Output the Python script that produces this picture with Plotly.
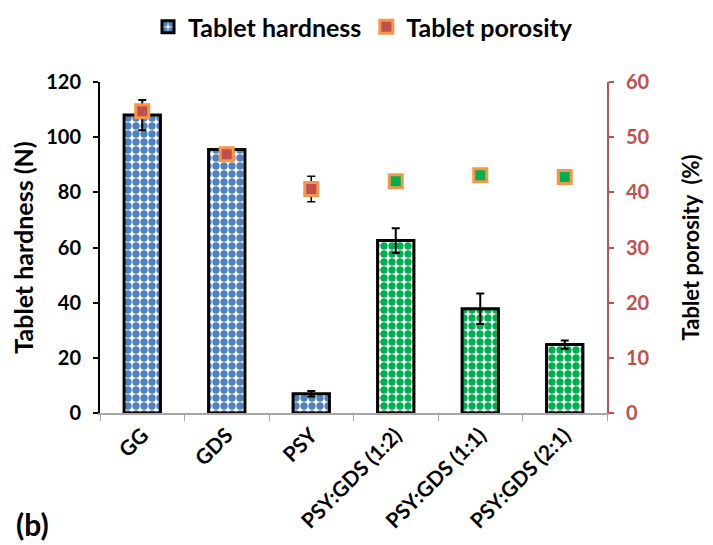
import plotly.graph_objects as go

categories = ["GG", "GDS", "PSY", "PSY:GDS (1:2)", "PSY:GDS (1:1)", "PSY:GDS (2:1)"]
hardness = [108.0, 95.5, 7.0, 62.5, 37.8, 24.8]
hardness_err = [5.5, 0.0, 1.0, 4.5, 5.5, 1.5]
porosity = [54.7, 46.9, 40.6, 42.0, 43.1, 42.8]
porosity_err = [0.0, 0.0, 2.3, 0.0, 0.0, 0.0]

blue = "#4F81BD"
green = "#00B050"
red = "#C0504D"
orange = "#F79646"
bar_colors = [blue, blue, blue, green, green, green]
marker_fill = [red, red, red, green, green, green]

FONT = "Lato"
W = "bold"

# plot area in figure pixels
L, R, T, B = 92, 114, 74, 140
PW, PH = 713 - L - R, 545 - T - B

fig = go.Figure()
fig.add_trace(go.Bar(
    x=categories, y=hardness, name="Tablet hardness",
    width=0.43,
    marker=dict(
        color="white",
        line=dict(color="black", width=3),
        pattern=dict(shape=".", fgcolor=bar_colors, bgcolor="white", fgopacity=1,
                     size=8, solidity=0.65),
    ),
    error_y=dict(type="data", array=hardness_err, color="black", thickness=2, width=4),
))
fig.add_trace(go.Scatter(
    x=categories, y=porosity, name="Tablet porosity", yaxis="y2", mode="markers",
    marker=dict(symbol="square", size=13, color=marker_fill, line=dict(color=orange, width=3)),
    error_y=dict(type="data", array=porosity_err, color="black", thickness=1.5, width=4),
))

fig.update_layout(
    width=713, height=545,
    margin=dict(l=L, r=R, t=T, b=B, autoexpand=False),
    paper_bgcolor="white", plot_bgcolor="white",
    font=dict(family=FONT, color="black"),
    showlegend=True,
    legend=dict(orientation="h", x=(355 - L) / PW, xanchor="center", y=1 + (T - 19) / PH, yanchor="middle",
                font=dict(size=25, family=FONT, weight=W), itemwidth=30,
                tracegroupgap=0),
    xaxis=dict(
        automargin=False,
        showline=True, linecolor="#A6A6A6", linewidth=1.5,
        ticks="outside", tickson="boundaries", ticklen=6, tickcolor="#A6A6A6",
        tickangle=-45, tickfont=dict(size=21, family=FONT, weight=W, color="black"),
        showgrid=False,
    ),
    yaxis=dict(
        automargin=False,
        range=[0, 120], dtick=20, showline=True, linecolor="black", linewidth=2,
        ticks="outside", ticklen=5, tickcolor="black", tickwidth=2, showgrid=False, zeroline=False,
        ticklabelstandoff=8,
        tickfont=dict(size=20, family=FONT, weight=W, color="black"),
        title=dict(text="Tablet hardness (N)", font=dict(size=25, family=FONT, weight=W), standoff=15),
    ),
    yaxis2=dict(
        automargin=False,
        range=[0, 60], dtick=10, overlaying="y", side="right",
        showline=True, linecolor=red, linewidth=2,
        ticks="outside", ticklen=5, tickcolor=red, tickwidth=2, showgrid=False, zeroline=False,
        ticklabelstandoff=8,
        tickfont=dict(size=20, family=FONT, weight=W, color=red),
        title=dict(text="Tablet porosity  (%)", font=dict(size=22, family=FONT, weight=W, color="black"), standoff=35),
    ),
    annotations=[dict(text="(b)", x=(6 - L) / PW, y=(545 - B - 516) / PH, xref="paper", yref="paper",
                      xanchor="left", yanchor="middle", showarrow=False,
                      font=dict(size=30, family=FONT, weight=W))],
)
fig.write_html("out.html")
